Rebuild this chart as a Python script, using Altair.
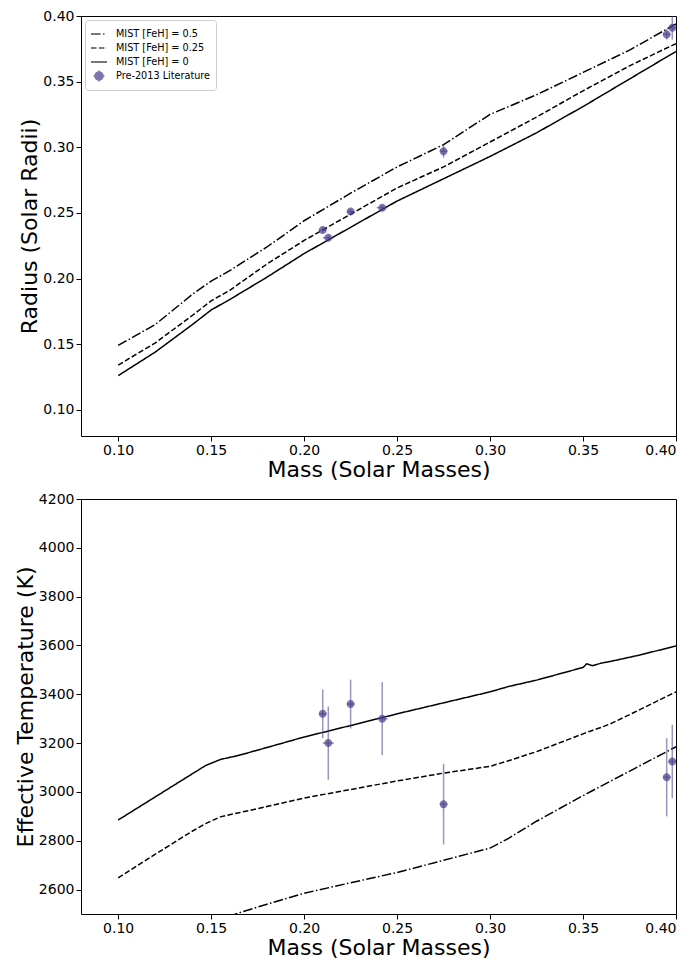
import altair as alt
import pandas as pd

SERIES = ["MIST [FeH] = 0.5", "MIST [FeH] = 0.25", "MIST [FeH] = 0", "Pre-2013 Literature"]
COLORS = ["black", "black", "black", "#483D8B"]
DASHES = [[9.6, 2.4, 1.5, 2.4], [5.5, 2.4], [1, 0], [1, 0]]
LIT_COLOR = "#483D8B"
CIRCLE_PATH = ("M0.5,0A0.5,0.5 0 1,1 -0.5,0A0.5,0.5 0 1,1 0.5,0Z"
               "M-0.68,0L0.68,0M0,-0.68L0,0.68")
SHAPES = ["stroke", "stroke", "stroke", CIRCLE_PATH]

# ---- Radius panel (MIST tracks) ----
r_mass = [0.10, 0.12, 0.14, 0.15, 0.16, 0.18, 0.20, 0.225, 0.25, 0.275, 0.30, 0.325, 0.35, 0.375, 0.40]
r_feh05 = [0.149, 0.165, 0.188, 0.198, 0.206, 0.224, 0.244, 0.265, 0.285, 0.302, 0.325, 0.340, 0.357, 0.374, 0.394]
r_feh025 = [0.134, 0.151, 0.172, 0.183, 0.191, 0.211, 0.229, 0.249, 0.269, 0.285, 0.304, 0.323, 0.343, 0.362, 0.379]
r_feh0 = [0.126, 0.144, 0.165, 0.176, 0.184, 0.201, 0.219, 0.239, 0.259, 0.276, 0.293, 0.311, 0.331, 0.352, 0.373]

# ---- Temperature panel (MIST tracks) ----
t_mass = [0.10, 0.12, 0.14, 0.147, 0.155, 0.165, 0.18, 0.20, 0.225, 0.25, 0.275, 0.30, 0.31,
          0.325, 0.35, 0.352, 0.355, 0.36, 0.365, 0.38, 0.40]
t_feh05 = [2230, 2330, 2420, 2450, 2475, 2505, 2540, 2585, 2628, 2670, 2720, 2770, 2810,
           2880, 2985, 2993, 3005, 3025, 3045, 3105, 3185]
t_feh025 = [2648, 2745, 2840, 2870, 2898, 2915, 2940, 2975, 3010, 3045, 3077, 3105, 3128,
            3165, 3238, 3244, 3252, 3265, 3280, 3335, 3410]
t_feh0 = [2885, 2980, 3075, 3108, 3133, 3150, 3182, 3225, 3272, 3320, 3365, 3410, 3432,
          3458, 3510, 3525, 3517, 3528, 3535, 3560, 3598]

# ---- Pre-2013 literature measurements ----
lit_mass = [0.210, 0.213, 0.225, 0.242, 0.275, 0.395, 0.398]
lit_mass_err = [0.002, 0.003, 0.002, 0.003, 0.002, 0.002, 0.002]
lit_radius = [0.237, 0.231, 0.251, 0.254, 0.297, 0.386, 0.391]
lit_radius_err = [0.002, 0.002, 0.002, 0.002, 0.005, 0.004, 0.009]
lit_teff = [3320, 3200, 3360, 3300, 2950, 3060, 3125]
lit_teff_err = [100, 150, 100, 150, 165, 160, 150]

x_ticks = [0.10, 0.15, 0.20, 0.25, 0.30, 0.35, 0.40]
r_ticks = [0.10, 0.15, 0.20, 0.25, 0.30, 0.35, 0.40]
t_ticks = [2600, 2800, 3000, 3200, 3400, 3600, 3800, 4000, 4200]


def tracks(mass, series_vals):
    rows = []
    for name, vals in zip(SERIES[:3], series_vals):
        for m, v in zip(mass, vals):
            rows.append({"mass": m, "val": v, "series": name})
    return pd.DataFrame(rows)


r_tracks = tracks(r_mass, [r_feh05, r_feh025, r_feh0])
t_tracks = tracks(t_mass, [t_feh05, t_feh025, t_feh0])

lit = pd.DataFrame({
    "mass": lit_mass, "merr": lit_mass_err,
    "radius": lit_radius, "rerr": lit_radius_err,
    "teff": lit_teff, "terr": lit_teff_err,
})
lit["series"] = SERIES[3]
lit["m_lo"] = lit["mass"] - lit["merr"]
lit["m_hi"] = lit["mass"] + lit["merr"]
lit["r_lo"] = lit["radius"] - lit["rerr"]
lit["r_hi"] = lit["radius"] + lit["rerr"]
lit["t_lo"] = lit["teff"] - lit["terr"]
lit["t_hi"] = lit["teff"] + lit["terr"]

legend = alt.Legend(
    title=None, orient="top-left", offset=4, padding=5,
    fillColor="white", strokeColor="#cccccc", cornerRadius=3,
    labelFont="DejaVu Sans", labelFontSize=9.7, labelColor="black",
    symbolStrokeWidth=1.5, symbolSize=256,
    rowPadding=0, labelOffset=8, labelLimit=200,
)

color_scale = alt.Scale(domain=SERIES, range=COLORS)
dash_scale = alt.Scale(domain=SERIES, range=DASHES)
shape_scale = alt.Scale(domain=SERIES, range=SHAPES)

PLOT_W = 595


def panel(track_df, ycol, lo, hi, ydomain, yticks, yfmt, ytitle, height):
    xenc = alt.X("mass:Q", scale=alt.Scale(domain=[0.08, 0.40], nice=False, zero=False),
                 axis=alt.Axis(values=x_ticks, format=".2f", title="Mass (Solar Masses)",
                               titleBaseline="alphabetic", titleY=40))
    yscale = alt.Scale(domain=ydomain, nice=False, zero=False)
    yaxis = alt.Axis(values=yticks, format=yfmt, title=ytitle, titlePadding=1)

    lines = alt.Chart(track_df).mark_line(clip=True, strokeWidth=1.5).encode(
        x=xenc,
        y=alt.Y("val:Q", scale=yscale, axis=yaxis),
        color=alt.Color("series:N", scale=color_scale, legend=legend),
        strokeDash=alt.StrokeDash("series:N", scale=dash_scale, legend=legend),
        order=alt.Order("mass:Q"),
    )
    ebar_y = alt.Chart(lit).mark_rule(clip=True, color=LIT_COLOR, opacity=0.55, strokeWidth=1.5).encode(
        x="mass:Q", y=alt.Y(f"{lo}:Q"), y2=f"{hi}:Q")
    ebar_x = alt.Chart(lit).mark_rule(clip=True, color=LIT_COLOR, opacity=0.55, strokeWidth=1.5).encode(
        x="m_lo:Q", x2="m_hi:Q", y=alt.Y(f"{ycol}:Q"))
    pts = alt.Chart(lit).mark_point(clip=True, filled=True, size=256, opacity=0.7).encode(
        x="mass:Q", y=alt.Y(f"{ycol}:Q"),
        color=alt.Color("series:N", scale=color_scale, legend=legend),
        shape=alt.Shape("series:N", scale=shape_scale, legend=legend),
    )
    return alt.layer(lines, ebar_y, ebar_x, pts).properties(width=PLOT_W, height=height)


top = panel(r_tracks, "radius", "r_lo", "r_hi", [0.08, 0.40], r_ticks, ".2f",
            "Radius (Solar Radii)", 420)
bottom = panel(t_tracks, "teff", "t_lo", "t_hi", [2500, 4200], t_ticks, "d",
               "Effective Temperature (K)", 415)

chart = alt.vconcat(top, bottom, spacing=10).properties(
    padding={"left": 5, "top": 0, "right": 5, "bottom": 0}
).configure_view(
    stroke="black", strokeWidth=1
).configure_axis(
    domain=False, grid=False, tickColor="black", tickSize=5, tickWidth=1,
    labelFont="DejaVu Sans", labelFontSize=14, labelColor="black", labelPadding=2,
    titleFont="DejaVu Sans", titleFontSize=22, titleFontWeight="normal", titleColor="black",
)

chart.save("out.html", embed_options={"renderer": "svg", "actions": False})
